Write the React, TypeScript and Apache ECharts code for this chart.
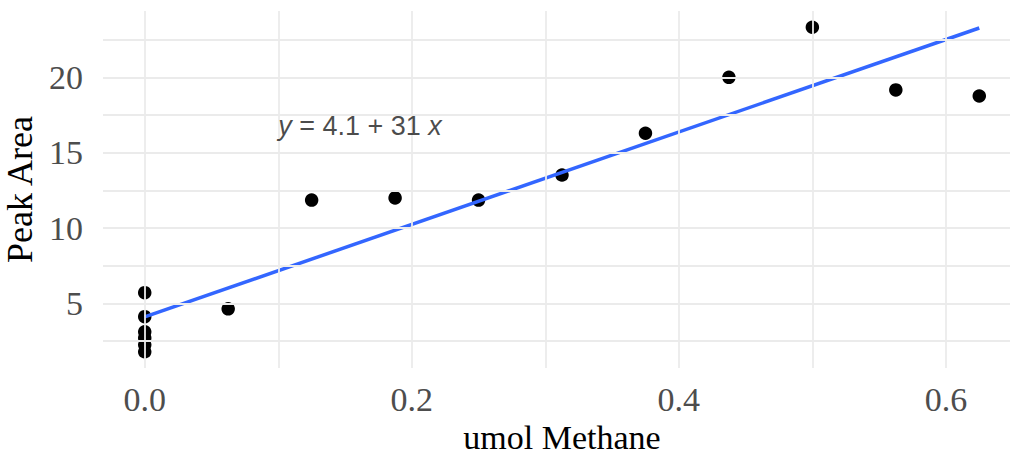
import React, { useEffect, useRef } from "react";
import * as echarts from "echarts";

// ---- data ----
const methaneUmol = [0, 0, 0, 0, 0, 0, 0.0625, 0.125, 0.1875, 0.25, 0.3125, 0.375, 0.4375, 0.5, 0.5625, 0.625];
const peakArea = [5.72, 4.13, 3.12, 2.72, 2.26, 1.8, 4.65, 11.86, 12.0, 11.86, 13.52, 16.29, 20.0, 23.32, 19.16, 18.76];
const xTickValues = [0, 0.2, 0.4, 0.6];
const yTickValues = [5, 10, 15, 20];
const xGridValues = [0, 0.1, 0.2, 0.3, 0.4, 0.5, 0.6];
const yGridValues = [2.5, 5, 7.5, 10, 12.5, 15, 17.5, 20, 22.5];
const xTitle = "umol Methane";
const yTitle = "Peak Area";
const eqAnchor = [0.1, 16.8];

function fitLine(xs: number[], ys: number[]) {
  const n = xs.length;
  const mx = xs.reduce((a, b) => a + b, 0) / n;
  const my = ys.reduce((a, b) => a + b, 0) / n;
  let sxx = 0;
  let sxy = 0;
  for (let i = 0; i < n; i++) {
    sxx += (xs[i] - mx) * (xs[i] - mx);
    sxy += (xs[i] - mx) * (ys[i] - my);
  }
  const slope = sxy / sxx;
  return { slope, intercept: my - slope * mx };
}

function expand(vals: number[]) {
  const lo = Math.min(...vals);
  const hi = Math.max(...vals);
  const pad = (hi - lo) * 0.05;
  return [lo - pad, hi + pad];
}

const SERIF = "'Liberation Serif', 'Times New Roman', serif";
const SANS = "'Liberation Sans', Arial, sans-serif";

export default function App() {
  const ref = useRef<HTMLDivElement>(null);

  useEffect(() => {
    if (!ref.current) return;
    const chart = echarts.init(ref.current, null, { renderer: "svg" });
    const { slope, intercept } = fitLine(methaneUmol, peakArea);
    const [xLo, xHi] = expand(methaneUmol);
    const [yLo, yHi] = expand(peakArea);
    const xMinData = Math.min(...methaneUmol);
    const xMaxData = Math.max(...methaneUmol);
    const eqText = `{n| = ${intercept.toFixed(1)} + ${Math.round(slope)} }`;

    const gridLines = [
      ...xGridValues.map((v) => ({ xAxis: v })),
      ...yGridValues.map((v) => ({ yAxis: v })),
    ];

    chart.setOption({
      animation: false,
      grid: {
        left: 103,
        right: -11,
        top: 11,
        bottom: 88,
        containLabel: false,
        outerBoundsMode: "none",
      },
      xAxis: {
        type: "value",
        min: xLo,
        max: xHi,
        axisLine: { show: false },
        axisTick: { show: false },
        splitLine: { show: false },
        axisLabel: {
          customValues: xTickValues,
          formatter: (v: number) => v.toFixed(1),
          margin: 14,
          fontFamily: SERIF,
          fontSize: 34,
          color: "#4D4D4D",
        },
        name: xTitle,
        nameLocation: "middle",
        nameGap: 53,
        nameTextStyle: { fontFamily: SERIF, fontSize: 34, lineHeight: 30, color: "#000000" },
      },
      yAxis: {
        type: "value",
        min: yLo,
        max: yHi,
        axisLine: { show: false },
        axisTick: { show: false },
        splitLine: { show: false },
        axisLabel: {
          customValues: yTickValues,
          formatter: (v: number) => String(v),
          margin: 20,
          fontFamily: SERIF,
          fontSize: 34,
          color: "#4D4D4D",
        },
        name: yTitle,
        nameLocation: "middle",
        nameRotate: 90,
        nameGap: 63,
        nameTextStyle: { fontFamily: SERIF, fontSize: 36, color: "#000000" },
      },
      series: [
        {
          type: "line",
          data: [],
          z: 1,
          silent: true,
          markLine: {
            silent: true,
            symbol: ["none", "none"],
            label: { show: false },
            lineStyle: { color: "#EBEBEB", width: 1.8, type: "solid" },
            emphasis: { disabled: true },
            data: gridLines,
          },
        },
        {
          type: "scatter",
          z: 3,
          symbol: "circle",
          symbolSize: 13.5,
          itemStyle: { color: "#000000", opacity: 1 },
          data: methaneUmol.map((x, i) => [x, peakArea[i]]),
        },
        {
          type: "line",
          z: 4,
          showSymbol: false,
          symbol: "none",
          lineStyle: { color: "#3366FF", width: 3.5 },
          data: [
            [xMinData, intercept + slope * xMinData],
            [xMaxData, intercept + slope * xMaxData],
          ],
        },
        {
          type: "scatter",
          z: 5,
          symbolSize: 0,
          silent: true,
          data: [eqAnchor],
          label: {
            show: true,
            position: "right",
            distance: 0,
            formatter: `{i|y}${eqText}{i|x}`,
            rich: {
              i: { fontFamily: SANS, fontSize: 27, fontStyle: "italic", color: "#1A1A1A" },
              n: { fontFamily: SANS, fontSize: 27, color: "#1A1A1A" },
            },
          },
        },
      ],
    });
    return () => chart.dispose();
  }, []);

  return (
    <div
      ref={ref}
      style={{ position: "fixed", left: 0, top: 0, width: 1010, height: 456, background: "#FFFFFF" }}
    />
  );
}
